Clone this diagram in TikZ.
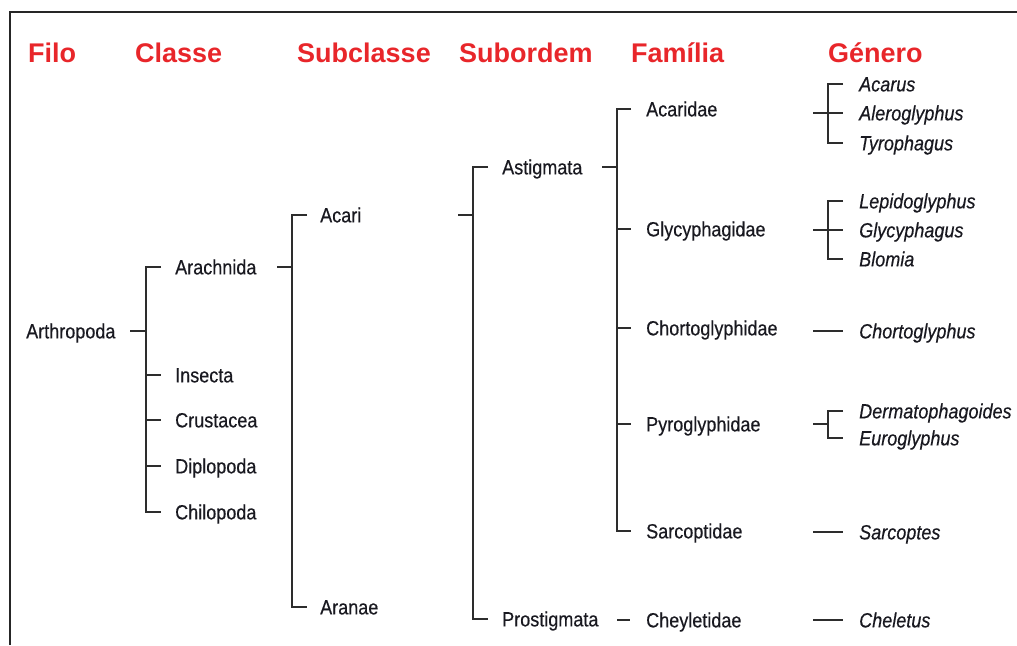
\documentclass[tikz,border=0pt]{standalone}
\usepackage{fontspec}
\newfontfamily\bodyfont[FakeStretch=0.88,FakeBold=0.4]{Liberation Sans}
\newfontfamily\headfont{Liberation Sans}
\usetikzlibrary{calc}
\definecolor{hdred}{RGB}{232,38,42}
\definecolor{txt}{RGB}{25,25,32}
\definecolor{ln}{RGB}{45,45,45}
\begin{document}
\begin{tikzpicture}[x=1pt,y=-1pt,
  hd/.style={anchor=base west,inner sep=0,text=hdred,font=\headfont\bfseries\fontsize{27}{30}\selectfont},
  tx/.style={anchor=west,inner sep=0,text height=14.7pt,text depth=0pt,text=txt,font=\bodyfont\fontsize{20.5}{24}\selectfont},
  gn/.style={tx,font=\bodyfont\itshape\fontsize{20.5}{24}\selectfont},
  br/.style={draw=ln,line width=1.6pt}]
\useasboundingbox (0,0) rectangle (1017,645);
% frame
\coordinate (fbl) at (10,645);
\coordinate (ftl) at (10,12);
\coordinate (ftr) at (1017,12);
\draw[line width=1.3pt,black!85] (fbl) -- (ftl) -- (ftr);
% headers
\node[hd] (hfilo) at (28,62.5) {Filo};
\node[hd] (hclasse) at (135,62.5) {Classe};
\node[hd] (hsubclasse) at (297,62.5) {Subclasse};
\node[hd] (hsubordem) at (459,62.5) {Subordem};
\node[hd] (hfamilia) at (631,62.5) {Família};
\node[hd] (hgenero) at (828,62.5) {Género};
% body
\node[tx] (arthropoda) at (26,331) {Arthropoda};
\node[tx] (arachnida) at (175,267) {Arachnida};
\node[tx] (insecta) at (175,375) {Insecta};
\node[tx] (crustacea) at (175,420) {Crustacea};
\node[tx] (diplopoda) at (175,466) {Diplopoda};
\node[tx] (chilopoda) at (175,512) {Chilopoda};
\node[tx] (acari) at (320,215) {Acari};
\node[tx] (aranae) at (320,607) {Aranae};
\node[tx] (astigmata) at (502,167) {Astigmata};
\node[tx] (prostigmata) at (502,619) {Prostigmata};
\node[tx] (acaridae) at (646,109) {Acaridae};
\node[tx] (glycyphagidae) at (646,229) {Glycyphagidae};
\node[tx] (chortoglyphidae) at (646,328) {Chortoglyphidae};
\node[tx] (pyroglyphidae) at (646,424) {Pyroglyphidae};
\node[tx] (sarcoptidae) at (646,531) {Sarcoptidae};
\node[tx] (cheyletidae) at (646,620) {Cheyletidae};
\node[gn] (acarus) at (859,84) {Acarus};
\node[gn] (aleroglyphus) at (859,113) {Aleroglyphus};
\node[gn] (tyrophagus) at (859,143) {Tyrophagus};
\node[gn] (lepidoglyphus) at (859,201) {Lepidoglyphus};
\node[gn] (glycyphagus) at (859,230) {Glycyphagus};
\node[gn] (blomia) at (859,259) {Blomia};
\node[gn] (chortoglyphus) at (859,331) {Chortoglyphus};
\node[gn] (dermatophagoides) at (859,411) {Dermatophagoides};
\node[gn] (euroglyphus) at (859,438) {Euroglyphus};
\node[gn] (sarcoptes) at (859,532) {Sarcoptes};
\node[gn] (cheletus) at (859,620) {Cheletus};
% bar positions
\coordinate (b1) at (146,0);
\coordinate (b2) at (292,0);
\coordinate (b3) at (473,0);
\coordinate (b4) at (617,0);
\coordinate (b5) at (828,0);
% Filo -> Classe
\draw[br] ($(arthropoda.west -| b1)+(-16pt,0)$) -- (arthropoda.west -| b1);
\draw[br] ([xshift=-14pt]arachnida.west) -- (arachnida.west -| b1) -- (chilopoda.west -| b1) -- ([xshift=-14pt]chilopoda.west);
\foreach \c in {insecta,crustacea,diplopoda}
  \draw[br] (\c.west -| b1) -- ([xshift=-14pt]\c.west);
% Classe -> Subclasse
\draw[br] ($(arachnida.west -| b2)+(-15pt,0)$) -- (arachnida.west -| b2);
\draw[br] ([xshift=-13pt]acari.west) -- (acari.west -| b2) -- (aranae.west -| b2) -- ([xshift=-13pt]aranae.west);
% Subclasse -> Subordem
\draw[br] ($(acari.west -| b3)+(-15pt,0)$) -- (acari.west -| b3);
\draw[br] ([xshift=-14pt]astigmata.west) -- (astigmata.west -| b3) -- (prostigmata.west -| b3) -- ([xshift=-14pt]prostigmata.west);
% Subordem -> Familia
\draw[br] ($(astigmata.west -| b4)+(-15pt,0)$) -- (astigmata.west -| b4);
\draw[br] ([xshift=-15pt]acaridae.west) -- (acaridae.west -| b4) -- (sarcoptidae.west -| b4) -- ([xshift=-15pt]sarcoptidae.west);
\foreach \c in {glycyphagidae,chortoglyphidae,pyroglyphidae}
  \draw[br] (\c.west -| b4) -- ([xshift=-15pt]\c.west);
\draw[br] (cheyletidae.west -| b4) -- ([xshift=-16pt]cheyletidae.west);
% Familia -> Genero
\draw[br] ([xshift=-16pt]acarus.west) -- (acarus.west -| b5) -- (tyrophagus.west -| b5) -- ([xshift=-16pt]tyrophagus.west);
\draw[br] ($(aleroglyphus.west -| b5)+(-15pt,0)$) -- ([xshift=-16pt]aleroglyphus.west);
\draw[br] ([xshift=-16pt]lepidoglyphus.west) -- (lepidoglyphus.west -| b5) -- (blomia.west -| b5) -- ([xshift=-16pt]blomia.west);
\draw[br] ($(glycyphagus.west -| b5)+(-15pt,0)$) -- ([xshift=-16pt]glycyphagus.west);
\draw[br] ([xshift=-16pt]dermatophagoides.west) -- (dermatophagoides.west -| b5) -- (euroglyphus.west -| b5) -- ([xshift=-16pt]euroglyphus.west);
\draw[br] ($(pyroglyphidae.west -| b5)+(-15pt,0)$) -- (pyroglyphidae.west -| b5);
\foreach \c in {chortoglyphus,sarcoptes,cheletus}
  \draw[br] ($(\c.west -| b5)+(-15pt,0)$) -- ([xshift=-16pt]\c.west);
\end{tikzpicture}
\end{document}
